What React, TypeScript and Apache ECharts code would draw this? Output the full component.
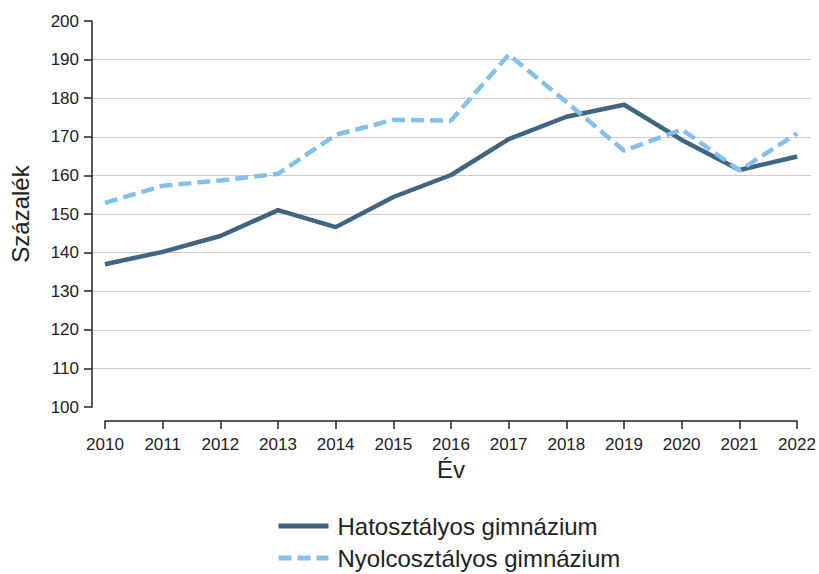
import React, { useEffect, useRef } from "react";
import * as echarts from "echarts";

const years = [2010, 2011, 2012, 2013, 2014, 2015, 2016, 2017, 2018, 2019, 2020, 2021, 2022];
const hatosztalyos = [137.0, 140.2, 144.3, 151.0, 146.6, 154.4, 160.1, 169.4, 175.2, 178.3, 169.2, 161.4, 164.9];
const nyolcosztalyos = [152.9, 157.3, 158.7, 160.4, 170.5, 174.4, 174.2, 191.3, 179.0, 166.4, 171.9, 161.3, 170.9];
const seriesNames = ["Hatosztályos gimnázium", "Nyolcosztályos gimnázium"];
const yTicks = [100, 110, 120, 130, 140, 150, 160, 170, 180, 190, 200];

const FONT = "Liberation Sans, Arial, Helvetica, sans-serif";
const DARK = "#41657f";
const LIGHT = "#85c0ea";

export default function App() {
  const ref = useRef<HTMLDivElement>(null);
  useEffect(() => {
    if (!ref.current) return;
    const chart = echarts.init(ref.current, undefined, { renderer: "svg" });
    const gridTop = 21;
    const gridBottom = 167;
    const legendBase = {
      orient: "vertical",
      left: 276,
      padding: 0,
      itemWidth: 50,
      itemHeight: 14,
      itemStyle: { color: "transparent", borderWidth: 0, opacity: 0 },
      lineStyle: { width: 5 },
      textStyle: { fontSize: 24, color: "#222", fontFamily: FONT, padding: [0, 0, 0, 4] },
    };
    chart.setOption({
      animation: false,
      backgroundColor: "#ffffff",
      textStyle: { fontFamily: FONT },
      grid: [
        { left: 92, right: 8, top: gridTop, bottom: gridBottom },
        { left: 105, right: 22, top: gridTop, bottom: gridBottom },
      ],
      xAxis: [
        {
          type: "value",
          gridIndex: 0,
          min: years[0] - 0.225,
          max: years[years.length - 1] + 0.24,
          show: false,
          splitLine: { show: false },
        },
        {
          type: "value",
          gridIndex: 1,
          min: years[0],
          max: years[years.length - 1],
          interval: 1,
          offset: 14,
          position: "bottom",
          name: "Év",
          nameLocation: "middle",
          nameGap: 36,
          nameTextStyle: { fontSize: 24, color: "#222", fontFamily: FONT },
          axisLine: { show: true, lineStyle: { color: "#222", width: 1.5 } },
          axisTick: { show: true, length: 8, lineStyle: { color: "#222", width: 1.5 } },
          axisLabel: {
            fontSize: 17,
            color: "#222",
            margin: 15,
            fontFamily: FONT,
            formatter: (v: number) => String(v),
          },
          splitLine: { show: false },
        },
      ],
      yAxis: [
        {
          type: "value",
          gridIndex: 0,
          min: yTicks[0],
          max: yTicks[yTicks.length - 1],
          interval: 10,
          name: "Százalék",
          nameLocation: "middle",
          nameGap: 60,
          nameTextStyle: { fontSize: 24, color: "#222", fontFamily: FONT },
          axisLine: { show: true, lineStyle: { color: "#222", width: 1.5 } },
          axisTick: { show: true, length: 8, lineStyle: { color: "#222", width: 1.5 } },
          axisLabel: { fontSize: 17, color: "#222", margin: 13, fontFamily: FONT },
          splitLine: {
            show: true,
            showMinLine: false,
            showMaxLine: false,
            lineStyle: { color: "#cccccc", width: 1 },
          },
        },
        {
          type: "value",
          gridIndex: 1,
          min: yTicks[0],
          max: yTicks[yTicks.length - 1],
          show: false,
          splitLine: { show: false },
        },
      ],
      legend: [
        { ...legendBase, top: 514, data: [seriesNames[0]] },
        { ...legendBase, top: 546, data: [seriesNames[1]] },
      ],
      series: [
        {
          name: seriesNames[0],
          type: "line",
          xAxisIndex: 0,
          yAxisIndex: 0,
          data: years.map((y, i) => [y, hatosztalyos[i]]),
          symbol: "none",
          lineStyle: { color: DARK, width: 4.5 },
          itemStyle: { color: DARK },
        },
        {
          name: seriesNames[1],
          type: "line",
          xAxisIndex: 0,
          yAxisIndex: 0,
          data: years.map((y, i) => [y, nyolcosztalyos[i]]),
          symbol: "none",
          lineStyle: { color: LIGHT, width: 4.5, type: [13, 6] },
          itemStyle: { color: LIGHT },
        },
      ],
    });
    return () => chart.dispose();
  }, []);
  return <div ref={ref} style={{ width: 819, height: 574, position: "absolute", left: 0, top: 0 }} />;
}
